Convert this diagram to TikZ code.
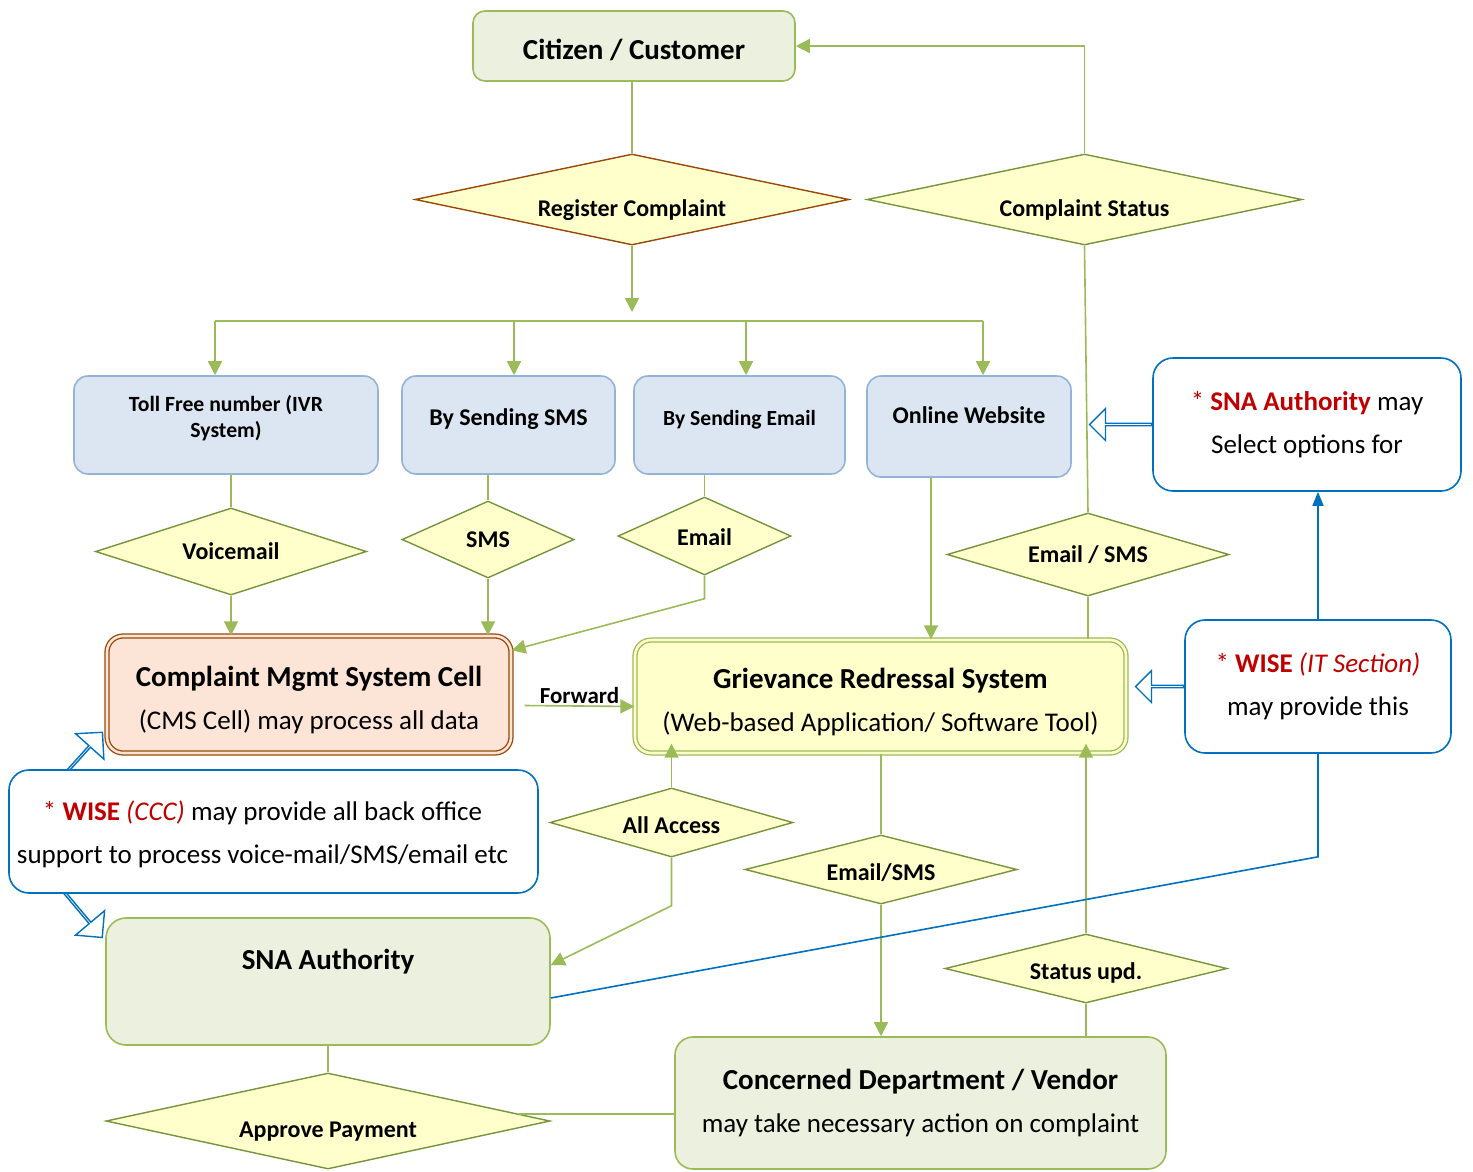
\documentclass[tikz,border=0pt]{standalone}
\usepackage{fontspec}
\setmainfont{Carlito}
\usepackage{xcolor}
\usetikzlibrary{positioning, shapes.geometric, shapes.arrows, arrows.meta}

\definecolor{lnGreen}{HTML}{9BBB59}
\definecolor{dkGreen}{HTML}{77933C}
\definecolor{paleGreen}{HTML}{EBF1DE}
\definecolor{paleYellow}{HTML}{FFFFCC}
\definecolor{paleBlue}{HTML}{DCE6F2}
\definecolor{midBlue}{HTML}{95B3D7}
\definecolor{noteBlue}{HTML}{0070C0}
\definecolor{brownLn}{HTML}{984807}
\definecolor{peach}{HTML}{FCE4D6}
\definecolor{wiseRed}{HTML}{C00000}

\newcommand{\fsz}[2]{\fontsize{#1}{#2}\selectfont}

\begin{document}
\begin{tikzpicture}[
  x=1pt, y=-1pt,
  every node/.style={align=center, inner sep=0pt},
  actor/.style ={draw=lnGreen, line width=1.6pt, fill=paleGreen, rounded corners=12pt,
                 font=\fsz{27}{43}},
  chan/.style  ={draw=midBlue, line width=1.6pt, fill=paleBlue, rounded corners=14pt,
                 font=\fsz{24}{26}\bfseries, text height=14.5pt, text depth=14pt},
  note/.style  ={draw=noteBlue, line width=1.6pt, fill=white, rounded corners=20pt,
                 font=\fsz{27}{43}},
  dec/.style   ={diamond, aspect=3.5, draw=dkGreen, line width=1.4pt, fill=paleYellow,
                 font=\fsz{24}{28}\bfseries, text height=15pt, text depth=0pt},
  declow/.style={text height=33pt},
  decmid/.style={text height=21pt},
  cell/.style  ={draw=brownLn, double=peach, double distance=2.6pt, line width=1.3pt,
                 fill=peach, rounded corners=16pt, font=\fsz{27}{43},
                 text height=80pt, text depth=10pt},
  tool/.style  ={draw=lnGreen, double=paleYellow, double distance=2.6pt, line width=1.3pt,
                 fill=paleYellow, rounded corners=16pt, font=\fsz{27}{43},
                 text height=80pt, text depth=10pt},
  hollow/.style={single arrow, draw=noteBlue, line width=1.4pt, fill=white,
                 minimum width=32pt, single arrow head extend=8pt},
  conn/.style  ={draw=lnGreen, line width=1.6pt},
  arr/.style   ={conn, -{Triangle[length=14pt, width=14pt]}},
  bline/.style ={draw=noteBlue, line width=1.6pt},
  barr/.style  ={bline, -{Triangle[length=14pt, width=11pt]}},
]
\useasboundingbox (0,0) rectangle (1473,1171);

% ---- Top: citizen and the two entry decisions ------------------------------
\node[actor, minimum width=322pt, minimum height=70pt, font=\fsz{29}{34}\bfseries,
      text height=26pt, text depth=0pt]                     (citizen)  at (634,46)      {Citizen / Customer};
\node[dec, declow, draw=brownLn, minimum width=434pt, minimum height=91pt] (register) at (632,199.5) {Register Complaint};
\node[dec, declow, minimum width=435pt, minimum height=91pt] (status)   at (1084.5,199.5) {Complaint Status};

% ---- Channels ---------------------------------------------------------------
\node[chan, minimum width=304pt, minimum height=98pt, font=\fsz{21.7}{26}\bfseries,
      text height=38pt, text depth=14pt]                    (toll)     at (226,425)     {Toll Free number (IVR\\System)};
\node[chan, minimum width=213pt, minimum height=98pt]       (bysms)    at (508.5,425)   {By Sending SMS};
\node[chan, minimum width=211pt, minimum height=98pt, font=\fsz{21.6}{26}\bfseries] (byemail) at (739.5,425) {By Sending Email};
\node[chan, minimum width=204pt, minimum height=101pt, text depth=21pt] (online) at (969,426.5) {Online Website};

\node[dec, minimum width=271pt, minimum height=87pt]        (voice)    at (231,551.5)   {Voicemail};
\node[dec, minimum width=172pt, minimum height=77pt]        (sms)      at (488,539.5)   {SMS};
\node[dec, minimum width=173pt, minimum height=78pt, text height=18pt] (email) at (704.5,536) {Email};
\node[dec, minimum width=282pt, minimum height=83pt]        (emsms)    at (1088,554.5)  {Email / SMS};

% ---- Processing -------------------------------------------------------------
\node[cell, minimum width=404pt, minimum height=117pt]      (cms)      at (309,694.5)
  {\textbf{\fsz{29}{43}Complaint Mgmt System Cell}\\(CMS Cell) may process all data};
\node[tool, minimum width=491pt, minimum height=113pt]      (grs)      at (880.5,696.5)
  {\textbf{\fsz{29}{43}Grievance Redressal System}\\(Web-based Application/ Software Tool)};

% hollow arrows of the back-office note (drawn first, the note hides their tails)
\node[hollow, rotate=48, minimum height=60pt, minimum width=38pt,
      single arrow head extend=11pt]                         (uparr)    at (82,755)      {};
\node[hollow, rotate=-50, minimum height=68pt, minimum width=38pt,
      single arrow head extend=11pt]                         (dnarr)    at (80,911)      {};

\node[note, minimum width=308pt, minimum height=133pt]      (snanote)  at (1307,424.5)
  {{\color{wiseRed}* \textbf{SNA Authority}} may\\Select options for};
\node[note, minimum width=266pt, minimum height=133pt]      (wiseit)   at (1318,686.5)
  {{\color{wiseRed}* \textbf{WISE} \textit{(IT Section)}}\\may provide this};
\node[note, minimum width=529pt, minimum height=123pt, text height=74pt, text depth=10pt] (wiseccc) at (273.5,831.5)
  {{\color{wiseRed}* \textbf{WISE} \textit{(CCC)}} may provide all back office\hspace*{22pt}\\support to process voice-mail/SMS/email etc\hspace*{22pt}};
\node[hollow, shape border rotate=180, minimum height=62pt, left=0pt of snanote] (selarr) {};
\node[hollow, shape border rotate=180, minimum height=48pt, left=0pt of wiseit]  (provarr) {};

% ---- Bottom: authority, department -----------------------------------------
\node[dec, decmid, minimum width=243pt, minimum height=69pt] (access)  at (671.5,822.5) {All Access};
\node[dec, decmid, minimum width=272pt, minimum height=69pt] (emsms2)  at (881,869.5)   {Email/SMS};
\node[dec, decmid, minimum width=282pt, minimum height=69pt] (upd)     at (1086,968.5)  {Status upd.};
\node[actor, minimum width=444pt, minimum height=127pt, rounded corners=20pt,
      font=\fsz{29}{34}\bfseries, text height=18pt, text depth=43pt] (sna) at (328,981.5) {SNA Authority};
\node[actor, minimum width=491pt, minimum height=132pt, rounded corners=18pt] (vendor) at (920.5,1103)
  {\textbf{\fsz{29}{43}Concerned Department / Vendor}\\may take necessary action on complaint};
\node[dec, declow, minimum width=444pt, minimum height=96pt] (approve)  at (328,1121)    {Approve Payment};

% ---- Connectors -------------------------------------------------------------
\coordinate (bus) at (600,321);
\draw[conn] (register.north |- citizen.south) -- (register.north);
\draw[arr]  (register.south) -- ([yshift=9pt]bus -| register.south);
\draw[arr]  (status.north) |- (citizen.east);
\draw[conn] ([xshift=-11pt]toll.north |- bus) -- ([xshift=14pt]online.north |- bus);
\foreach \n/\dx in {toll/-11, bysms/5.5, byemail/6.5, online/14}
  \draw[arr] ([xshift=\dx pt]\n.north |- bus) -- ([xshift=\dx pt]\n.north);

\draw[conn] (voice.north |- toll.south) -- (voice.north);
\draw[arr]  (voice.south) -- (voice.south |- cms.north);
\draw[conn] (sms.north |- bysms.south) -- (sms.north);
\draw[arr]  (sms.south) -- (sms.south |- cms.north);
\draw[conn] (email.north |- byemail.south) -- (email.north);
\draw[arr]  (email.south) -- ++(0,23) -- ([yshift=-15pt]cms.north east);
\draw[arr]  ([xshift=-38pt]online.south) -- ([xshift=-38pt]online.south |- grs.north);
\draw[conn] (status.south) -- (emsms.north);
\draw[conn] (emsms.south) -- (emsms.south |- grs.north);

\draw[arr]  ([xshift=13pt,yshift=-11pt]cms.east) -- node[above=2pt, font=\fsz{23}{26}\bfseries] {Forward}
            ([yshift=-10pt]grs.west);

\draw[arr]  (access.north) -- ([yshift=10pt]access.north |- grs.south);
\draw[arr]  (access.south) -- ++(0,48) -- ([yshift=16.5pt]sna.east);
\draw[conn] (emsms2.north |- grs.south) -- (emsms2.north);
\draw[arr]  (emsms2.south) -- (emsms2.south |- vendor.north);
\draw[conn] (upd.south |- vendor.north) -- (upd.south);
\draw[arr]  (upd.north) -- ([yshift=10pt]upd.north |- grs.south);
\draw[conn] (sna.south) -- (approve.north);
\coordinate (payout) at ([xshift=-32pt,yshift=7pt]approve.east);
\draw[conn] (payout) -- (payout -| vendor.west);

\draw[barr]  (wiseit.north) -- (wiseit.north |- snanote.south);
\draw[bline] (wiseit.south) -- ++(0,103) -- ([yshift=-16.5pt]sna.east);
\end{tikzpicture}
\end{document}
